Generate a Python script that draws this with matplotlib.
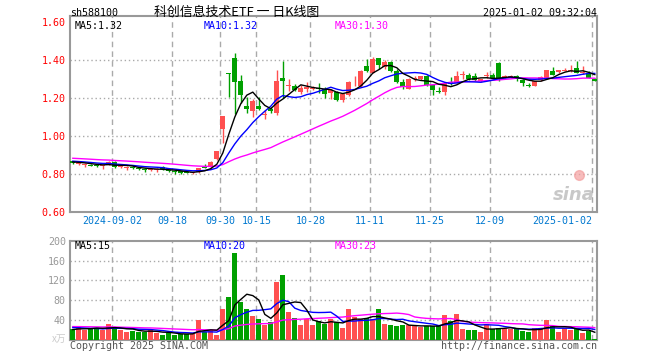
import matplotlib
matplotlib.use("Agg")
import matplotlib.pyplot as plt
import numpy as np
import pandas as pd

# ---- data ----
# 88 trading days, 2024-08-22 .. 2025-01-02
opens = [0.866, 0.851, 0.846, 0.849, 0.846, 0.840, 0.847, 0.865, 0.836, 0.832,
         0.838, 0.832, 0.828, 0.820, 0.822, 0.838, 0.820, 0.818, 0.814, 0.812,
         0.803, 0.808, 0.838, 0.836, 0.878, 1.039, 1.330, 1.409, 1.290, 1.158,
         1.133, 1.158, 1.109, 1.140, 1.123, 1.308, 1.264, 1.264, 1.230, 1.250,
         1.250, 1.252, 1.246, 1.228, 1.231, 1.189, 1.214, 1.282, 1.264, 1.368,
         1.332, 1.410, 1.366, 1.388, 1.343, 1.283, 1.249, 1.300, 1.299, 1.316,
         1.267, 1.236, 1.232, 1.284, 1.281, 1.320, 1.323, 1.316, 1.288, 1.316,
         1.323, 1.386, 1.310, 1.310, 1.316, 1.295, 1.268, 1.265, 1.296, 1.304,
         1.343, 1.337, 1.345, 1.340, 1.360, 1.333, 1.330, 1.300]
highs = [0.870, 0.862, 0.858, 0.852, 0.850, 0.848, 0.868, 0.868, 0.845, 0.842,
         0.840, 0.835, 0.830, 0.830, 0.830, 0.840, 0.823, 0.820, 0.816, 0.815,
         0.810, 0.834, 0.852, 0.868, 0.922, 1.105, 1.330, 1.438, 1.320, 1.205,
         1.193, 1.204, 1.135, 1.154, 1.346, 1.396, 1.300, 1.272, 1.267, 1.284,
         1.262, 1.281, 1.258, 1.250, 1.236, 1.228, 1.288, 1.316, 1.347, 1.405,
         1.414, 1.413, 1.398, 1.397, 1.351, 1.302, 1.303, 1.318, 1.318, 1.320,
         1.270, 1.256, 1.284, 1.309, 1.340, 1.340, 1.330, 1.330, 1.300, 1.337,
         1.330, 1.390, 1.320, 1.322, 1.320, 1.298, 1.280, 1.290, 1.316, 1.350,
         1.365, 1.350, 1.360, 1.372, 1.395, 1.368, 1.340, 1.308]
lows = [0.852, 0.848, 0.835, 0.840, 0.838, 0.826, 0.845, 0.832, 0.832, 0.823,
        0.828, 0.822, 0.812, 0.817, 0.812, 0.822, 0.812, 0.800, 0.800, 0.803,
        0.800, 0.806, 0.830, 0.834, 0.876, 0.961, 1.207, 1.115, 1.172, 1.123,
        1.102, 1.137, 1.092, 1.123, 1.110, 1.200, 1.238, 1.238, 1.223, 1.232,
        1.240, 1.228, 1.198, 1.195, 1.186, 1.178, 1.212, 1.263, 1.258, 1.337,
        1.330, 1.354, 1.352, 1.336, 1.277, 1.249, 1.246, 1.290, 1.296, 1.262,
        1.218, 1.225, 1.214, 1.270, 1.280, 1.302, 1.294, 1.288, 1.282, 1.303,
        1.298, 1.292, 1.305, 1.305, 1.292, 1.262, 1.258, 1.262, 1.290, 1.302,
        1.320, 1.333, 1.340, 1.338, 1.330, 1.328, 1.304, 1.288]
closes = [0.858, 0.858, 0.852, 0.843, 0.842, 0.846, 0.865, 0.836, 0.841, 0.838,
          0.831, 0.826, 0.820, 0.826, 0.827, 0.825, 0.815, 0.809, 0.807, 0.806,
          0.808, 0.831, 0.833, 0.865, 0.919, 1.105, 1.325, 1.286, 1.216, 1.144,
          1.185, 1.144, 1.117, 1.130, 1.291, 1.291, 1.268, 1.245, 1.253, 1.257,
          1.255, 1.247, 1.223, 1.240, 1.189, 1.219, 1.284, 1.286, 1.340, 1.340,
          1.407, 1.374, 1.391, 1.343, 1.283, 1.257, 1.302, 1.306, 1.315, 1.267,
          1.243, 1.232, 1.281, 1.276, 1.316, 1.324, 1.298, 1.295, 1.298, 1.320,
          1.305, 1.305, 1.314, 1.314, 1.300, 1.277, 1.265, 1.288, 1.313, 1.348,
          1.322, 1.348, 1.349, 1.350, 1.333, 1.338, 1.306, 1.290]
volumes = [22, 29, 20, 24, 25, 20, 32, 24, 20, 17,
           18, 17, 17, 20, 15, 10, 15, 10, 12, 13,
           12, 40, 17, 20, 10, 62, 86, 175, 76, 62,
           48, 42, 30, 36, 117, 130, 56, 44, 30, 42,
           30, 38, 32, 42, 36, 24, 62, 46, 42, 44,
           42, 62, 32, 30, 28, 30, 30, 28, 26, 28,
           28, 30, 50, 38, 52, 22, 20, 20, 16, 32,
           22, 24, 24, 22, 24, 18, 16, 24, 25, 40,
           28, 16, 25, 20, 22, 15, 18, 3]

# closes / volumes of the 29 sessions before the window (for the moving averages)
pre_closes = [0.905, 0.902, 0.898, 0.900, 0.896, 0.893, 0.895, 0.890, 0.887, 0.889,
              0.885, 0.888, 0.884, 0.886, 0.882, 0.880, 0.884, 0.889, 0.892, 0.887,
              0.878, 0.874, 0.870, 0.872, 0.866, 0.868, 0.865, 0.864, 0.862]
pre_volumes = [30, 26, 28, 31, 27, 25, 29, 33, 26, 28,
               27, 30, 24, 29, 26, 31, 28, 25, 30, 27,
               32, 27, 30, 26, 30, 22, 19, 23, 19]

tick_idx = [7, 17, 25, 31, 40, 50, 60, 70, 87]
tick_labels = ["2024-09-02", "09-18", "09-30", "10-15", "10-28",
               "11-11", "11-25", "12-09", "2025-01-02"]

price_ticks = [0.60, 0.80, 1.00, 1.20, 1.40, 1.60]
vol_ticks = [40, 80, 120, 160, 200]

# ---- derived ----
n = len(closes)
x = np.arange(n)
o = np.array(opens); h = np.array(highs); l = np.array(lows); c = np.array(closes)
v = np.array(volumes)
up = c >= o

all_c = pd.Series(pre_closes + closes)
all_v = pd.Series(pre_volumes + volumes)
ma = {w: all_c.rolling(w).mean().values[-n:] for w in (5, 10, 30)}
vma = {w: all_v.rolling(w).mean().values[-n:] for w in (5, 10, 30)}

RED = '#ff5050'
GREEN = '#00a000'
MA_COL = {5: 'black', 10: '#0000ff', 30: '#ff00ff'}
GRID = '#aaaaaa'
FRAME = '#999999'
MONO = 'DejaVu Sans Mono'
cols = [RED if u else GREEN for u in up]

fig = plt.figure(figsize=(6.6, 3.6), dpi=100)
ax = fig.add_axes([70 / 660, 1 - 212 / 360, 527 / 660, 196 / 360])
axv = fig.add_axes([70 / 660, 1 - 340 / 360, 527 / 660, 99.3 / 360])

xlim = (-0.47, 87.37)
grid_x = [k - 0.42 for k in tick_idx]

# price panel
ax.vlines(x, l, h, colors=cols, linewidth=1, zorder=3)
ax.bar(x, np.maximum(np.abs(c - o), 0.003), bottom=np.minimum(o, c),
       width=0.8, color=cols, linewidth=0, zorder=3)
for w in (30, 10, 5):
    ax.plot(x, ma[w], color=MA_COL[w], linewidth=1, zorder=4)
ax.set_xlim(*xlim)
ax.set_ylim(0.60, 1.632)
ax.set_yticks(price_ticks)
ax.set_yticklabels(["%.2f" % t for t in price_ticks], color='#ff0000',
                   fontsize=7.2, family=MONO)
ax.set_xticks(grid_x)
ax.set_xticklabels(tick_labels, color='#0078d0', fontsize=7.2, family=MONO)
ax.get_xticklabels()[-1].set_ha('right')
for yy in (0.8, 1.0, 1.2, 1.4):
    ax.axhline(yy, color=GRID, linewidth=1, linestyle=(0, (1, 2)), zorder=1)
ax.text(0.0095, 0.95, "MA5:1.32", transform=ax.transAxes, color='black',
        fontsize=7.2, family=MONO, va='center')
ax.text(0.254, 0.95, "MA10:1.32", transform=ax.transAxes, color='#0000ff',
        fontsize=7.2, family=MONO, va='center')
ax.text(0.503, 0.95, "MA30:1.30", transform=ax.transAxes, color='#ff00ff',
        fontsize=7.2, family=MONO, va='center')
ax.text(0.995, 0.04, "sina", transform=ax.transAxes, color='#bbbbbb',
        fontsize=13, fontweight='bold', style='italic', ha='right', va='bottom',
        alpha=0.8, zorder=2)
ax.plot([0.965], [0.19], 'o', transform=ax.transAxes, color='#f4a0a0',
        markersize=7, alpha=0.7, zorder=2)

# volume panel
axv.bar(x, v, width=0.83, color=cols, linewidth=0, zorder=3)
for w in (30, 10, 5):
    axv.plot(x, vma[w], color=MA_COL[w], linewidth=1, zorder=4)
axv.set_xlim(*xlim)
axv.set_ylim(0, 200)
axv.set_yticks(vol_ticks)
axv.set_yticklabels([str(t) for t in vol_ticks], color='#999999',
                    fontsize=7.2, family=MONO)
axv.set_xticks(grid_x)
axv.set_xticklabels([])
for yy in (40, 80, 120, 160):
    axv.axhline(yy, color=GRID, linewidth=1, linestyle=(0, (1, 2)), zorder=1)
axv.text(0.0095, 0.947, "MA5:15", transform=axv.transAxes, color='black',
         fontsize=7.2, family=MONO, va='center')
axv.text(0.254, 0.947, "MA10:20", transform=axv.transAxes, color='#0000ff',
         fontsize=7.2, family=MONO, va='center')
axv.text(0.503, 0.947, "MA30:23", transform=axv.transAxes, color='#ff00ff',
         fontsize=7.2, family=MONO, va='center')

for a in (ax, axv):
    for gx in grid_x:
        a.axvline(gx, color=GRID, linewidth=1, linestyle=(0, (4, 3)), zorder=1)
    a.tick_params(length=0, pad=3)
    for s in a.spines.values():
        s.set_color(FRAME)
        s.set_linewidth(1.5)
    a.set_facecolor('white')

# header / footer
fig.text(70 / 660, 1 - 13 / 360, "sh588100", fontsize=7.2, family=MONO,
         va='center', ha='left')
fig.text(237 / 660, 1 - 12 / 360, "科创信息技术ETF 一 日K线图", fontsize=9.3,
         family=['Noto Sans CJK SC', 'DejaVu Sans'], va='center', ha='center')
fig.text(597 / 660, 1 - 13 / 360, "2025-01-02 09:32:04", fontsize=7.2,
         family=MONO, va='center', ha='right')
fig.text(52 / 660, 1 - 339 / 360, "x万", fontsize=7,
         family=['Noto Sans CJK SC', 'DejaVu Sans'], color='#cccccc',
         va='center', ha='left')
fig.text(70 / 660, 1 - 346 / 360, "Copyright 2025 SINA.COM", fontsize=7.2,
         family=MONO, color='#555555', va='center', ha='left')
fig.text(597 / 660, 1 - 346 / 360, "http://finance.sina.com.cn", fontsize=7.2,
         family=MONO, color='#555555', va='center', ha='right')

fig.savefig("out.png", dpi=100, facecolor='white')
